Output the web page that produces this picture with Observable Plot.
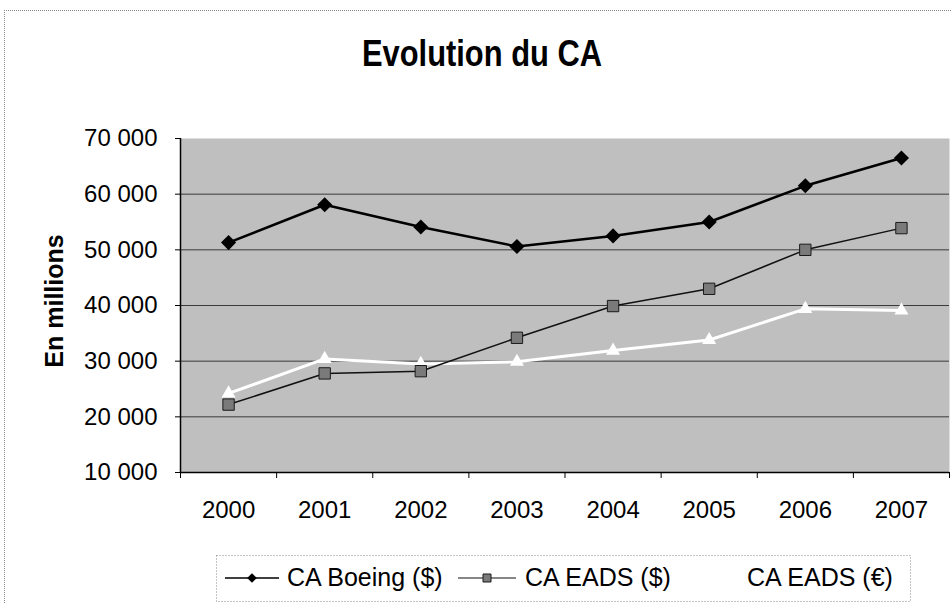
<!DOCTYPE html>
<html>
<head>
<meta charset="utf-8">
<script src="https://cdn.jsdelivr.net/npm/d3@7"></script>
<script src="https://cdn.jsdelivr.net/npm/@observablehq/plot@0.6"></script>
<style>
  body { margin: 0; background: #fff; font-family: "Liberation Sans", Arial, sans-serif; }
  #wrap { position: relative; width: 951px; height: 604px; overflow: hidden; background: #fff; }
  #border { position: absolute; left: 4px; top: 10px; width: 980px; height: 640px;
            border-left: 1px dotted #8a8a8a; border-top: 1px dotted #8a8a8a; }
  #chart { position: absolute; left: 0; top: 0; }
  #overlay { position: absolute; left: 0; top: 0; pointer-events: none; }
</style>
</head>
<body>
<div id="wrap">
  <div id="border"></div>
  <div id="chart"></div>
  <svg id="overlay" width="951" height="604" font-family="Liberation Sans, Arial, sans-serif"></svg>
</div>
<script>
// ---- data ----
const years = [2000, 2001, 2002, 2003, 2004, 2005, 2006, 2007];
const boeing = [51300, 58100, 54100, 50600, 52500, 55000, 61500, 66500];
const eadsUsd = [22200, 27800, 28200, 34200, 39900, 43000, 50000, 53900];
const eadsEur = [24200, 30400, 29500, 29900, 31900, 33800, 39400, 39100];
const yTicks = [10000, 20000, 30000, 40000, 50000, 60000, 70000];
const seriesNames = ["CA Boeing ($)", "CA EADS ($)", "CA EADS (€)"];
const chartTitle = "Evolution du CA";
const yTitle = "En millions";

// ---- build ----
const rows = vals => years.map((y, i) => ({year: y, value: vals[i]}));
const B = rows(boeing), U = rows(eadsUsd), E = rows(eadsEur);
const edges = d3.range(years.length + 1).map(i => years[0] - 0.5 + i);
const fmt = d => d3.format(",")(d).replace(/,/g, "\u00a0");

const plot = Plot.plot({
  width: 951,
  height: 604,
  marginLeft: 180,
  marginRight: 2,
  marginTop: 138,
  marginBottom: 132,
  style: {fontFamily: "Liberation Sans, Arial, sans-serif", fontSize: "24px", color: "#000", background: "transparent"},
  x: {type: "linear", domain: [years[0] - 0.5, years[years.length - 1] + 0.5]},
  y: {domain: [yTicks[0], yTicks[yTicks.length - 1]]},
  marks: [
    Plot.frame({fill: "#bfbfbf", stroke: "none"}),
    Plot.gridY(yTicks.slice(1, -1), {stroke: "#3a3a3a", strokeOpacity: 1, strokeWidth: 1}),
    Plot.axisY(yTicks, {tickSize: 5, tickPadding: 18, tickFormat: fmt, label: null, fontSize: 24}),
    Plot.axisX(edges, {tickSize: 6, tickFormat: () => "", label: null}),
    Plot.axisX(years, {tickSize: 0, tickPadding: 28, tickFormat: d => String(d), label: null, fontSize: 24}),
    Plot.ruleX([years[0] - 0.5], {stroke: "#000", strokeWidth: 1.5}),
    Plot.ruleY([yTicks[0]], {stroke: "#000", strokeWidth: 1.5}),
    Plot.line(E, {x: "year", y: "value", stroke: "#fff", strokeWidth: 3}),
    Plot.line(U, {x: "year", y: "value", stroke: "#111", strokeWidth: 1.5}),
    Plot.line(B, {x: "year", y: "value", stroke: "#000", strokeWidth: 2.5}),
    Plot.dot(E, {x: "year", y: "value", symbol: "triangle", fill: "#fff", r: 5.2}),
    Plot.dot(U, {x: "year", y: "value", symbol: "square", fill: "#7a7a7a", stroke: "#1a1a1a", strokeWidth: 1, r: 6.4}),
    Plot.dot(B, {x: "year", y: "value", symbol: "diamond2", fill: "#000", r: 6.8})
  ]
});
document.getElementById("chart").appendChild(plot);

// ---- title, y title, legend ----
const ov = d3.select("#overlay");
ov.append("text")
  .attr("x", 482).attr("y", 66)
  .attr("text-anchor", "middle")
  .attr("font-weight", "bold").attr("font-size", 36)
  .attr("textLength", 240).attr("lengthAdjust", "spacingAndGlyphs")
  .text(chartTitle);
ov.append("text")
  .attr("transform", "translate(63,301) rotate(-90)")
  .attr("text-anchor", "middle")
  .attr("font-weight", "bold").attr("font-size", 25)
  .text(yTitle);

const lg = ov.append("g");
lg.append("rect").attr("x", 216.5).attr("y", 555.5).attr("width", 694).attr("height", 46)
  .attr("fill", "none").attr("stroke", "#8a8a8a").attr("stroke-dasharray", "1,2");
const items = [
  {x0: 225, x1: 279, tx: 287, stroke: "#000", sw: 1.5, sym: "diamond2", fill: "#000", st: "none", size: 60},
  {x0: 458, x1: 516, tx: 525, stroke: "#111", sw: 1.2, sym: "square", fill: "#7a7a7a", st: "#1a1a1a", size: 64},
  {x0: 685, x1: 739, tx: 747, stroke: "#fff", sw: 2, sym: "triangle", fill: "#fff", st: "none", size: 60}
];
const symMap = {diamond2: d3.symbolDiamond2, square: d3.symbolSquare, triangle: d3.symbolTriangle};
items.forEach((it, i) => {
  const cy = 578;
  const cx = (it.x0 + it.x1) / 2;
  lg.append("line").attr("x1", it.x0).attr("x2", it.x1).attr("y1", cy).attr("y2", cy)
    .attr("stroke", it.stroke).attr("stroke-width", it.sw);
  lg.append("path").attr("transform", `translate(${cx},${cy})`)
    .attr("d", d3.symbol(symMap[it.sym], it.size)())
    .attr("fill", it.fill).attr("stroke", it.st);
  lg.append("text").attr("x", it.tx).attr("y", 586).attr("font-size", 25).text(seriesNames[i]);
});
</script>
</body>
</html>
